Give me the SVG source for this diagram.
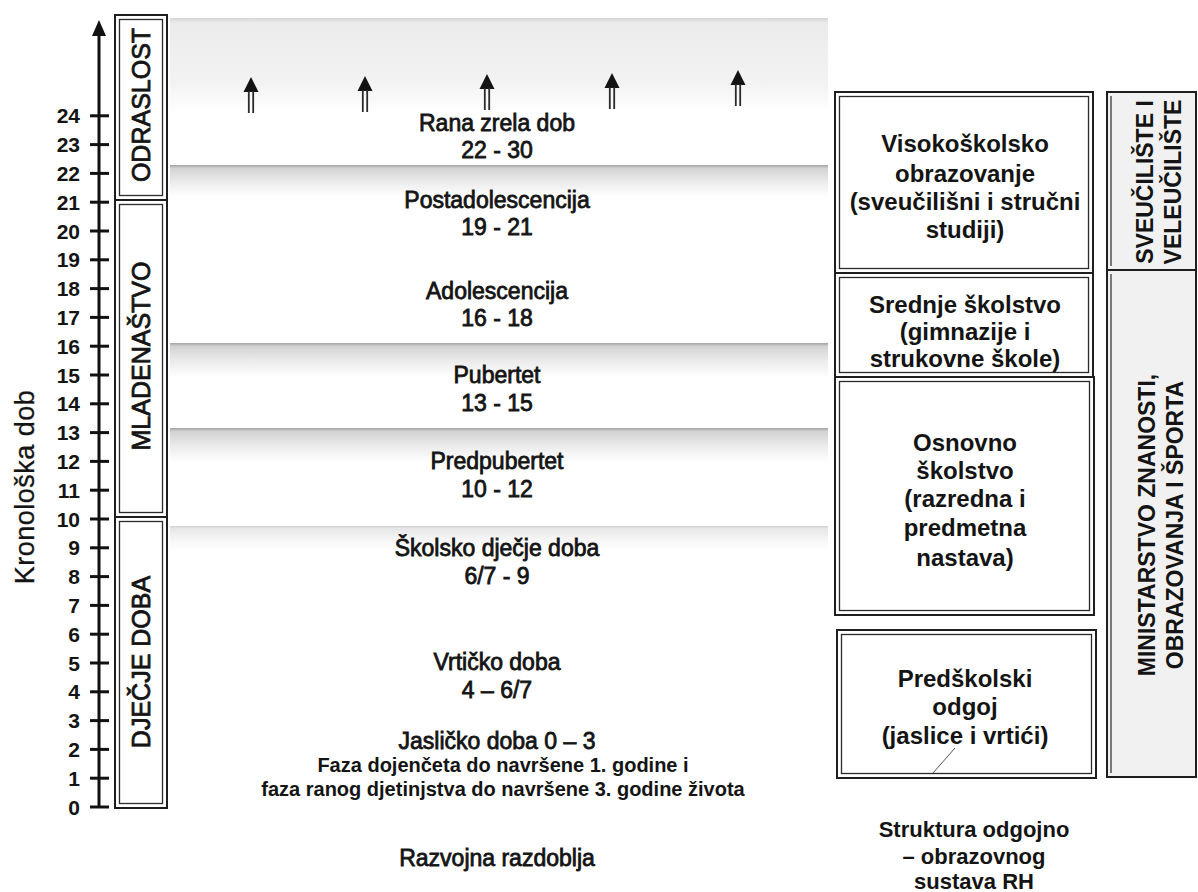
<svg xmlns="http://www.w3.org/2000/svg" xmlns:xlink="http://www.w3.org/1999/xlink" width="1198" height="892" viewBox="0 0 1198 892">
  <style>
    text { font-family: "Liberation Sans", Arial, sans-serif; fill: #141414; }
    .mid { font-size: 23px; text-anchor: middle; stroke: #141414; stroke-width: 0.8; }
    .note { font-size: 20px; font-weight: bold; text-anchor: middle; }
    .num { font-size: 21px; font-weight: bold; text-anchor: end; }
    .vlab { font-size: 25px; text-anchor: middle; stroke: #141414; stroke-width: 0.8; }
    .axlab { font-size: 27px; text-anchor: middle; letter-spacing: 0.5px; stroke: #141414; stroke-width: 0.3; }
    .box { font-size: 24px; font-weight: bold; text-anchor: middle; }
    .rcol { font-size: 23px; font-weight: bold; text-anchor: middle; }
    .cap { font-size: 22px; font-weight: bold; text-anchor: middle; }
    .outer { fill: none; stroke: #1e1e1e; stroke-width: 2; }
    .inner { fill: none; stroke: #2a2a2a; stroke-width: 1.3; }
    .tick { stroke: #111; stroke-width: 3; }
    .shaft { stroke: #2a2a2a; stroke-width: 1.8; }
  </style>
  <defs>
    <linearGradient id="band" x1="0" y1="0" x2="0" y2="1">
      <stop offset="0" stop-color="#a4a4a4"/>
      <stop offset="0.1" stop-color="#d2d2d2"/>
      <stop offset="0.5" stop-color="#eaeaea"/>
      <stop offset="1" stop-color="#ffffff"/>
    </linearGradient>
    <linearGradient id="bandTop" x1="0" y1="0" x2="0" y2="1">
      <stop offset="0" stop-color="#d6d6d6"/>
      <stop offset="0.05" stop-color="#ebebeb"/>
      <stop offset="0.7" stop-color="#f3f3f3"/>
      <stop offset="1" stop-color="#ffffff"/>
    </linearGradient>
    <g id="uparrow">
      <polygon points="0,0 -7.5,15 7.5,15" fill="#141414"/>
      <line class="shaft" x1="-2.2" y1="14" x2="-2.2" y2="36"/>
      <line class="shaft" x1="2.2" y1="14" x2="2.2" y2="36"/>
    </g>
  </defs>

  <rect width="1198" height="892" fill="#ffffff"/>

  <!-- shaded bands of the development periods -->
  <g id="bands">
    <rect x="170" y="18" width="658" height="95" fill="url(#bandTop)"/>
    <rect x="170" y="165" width="658" height="32" fill="url(#band)"/>
    <rect x="170" y="343" width="658" height="34" fill="url(#band)"/>
    <rect x="170" y="428" width="658" height="34" fill="url(#band)"/>
    <rect x="170" y="526" width="658" height="24" fill="url(#band)" opacity="0.55"/>
  </g>

  <!-- chronological axis -->
  <g id="axis">
    <line x1="99" y1="808" x2="99" y2="32" stroke="#111" stroke-width="3"/>
    <polygon points="99,20 92,36 106,36" fill="#111"/>
    <g id="ticks">
      <line class="tick" x1="90" y1="807" x2="109" y2="807"/>
      <line class="tick" x1="90" y1="778.2" x2="109" y2="778.2"/>
      <line class="tick" x1="90" y1="749.4" x2="109" y2="749.4"/>
      <line class="tick" x1="90" y1="720.6" x2="109" y2="720.6"/>
      <line class="tick" x1="90" y1="691.8" x2="109" y2="691.8"/>
      <line class="tick" x1="90" y1="663" x2="109" y2="663"/>
      <line class="tick" x1="90" y1="634.2" x2="109" y2="634.2"/>
      <line class="tick" x1="90" y1="605.4" x2="109" y2="605.4"/>
      <line class="tick" x1="90" y1="576.6" x2="109" y2="576.6"/>
      <line class="tick" x1="90" y1="547.8" x2="109" y2="547.8"/>
      <line class="tick" x1="90" y1="519" x2="109" y2="519"/>
      <line class="tick" x1="90" y1="490.2" x2="109" y2="490.2"/>
      <line class="tick" x1="90" y1="461.4" x2="109" y2="461.4"/>
      <line class="tick" x1="90" y1="432.6" x2="109" y2="432.6"/>
      <line class="tick" x1="90" y1="403.8" x2="109" y2="403.8"/>
      <line class="tick" x1="90" y1="375" x2="109" y2="375"/>
      <line class="tick" x1="90" y1="346.2" x2="109" y2="346.2"/>
      <line class="tick" x1="90" y1="317.4" x2="109" y2="317.4"/>
      <line class="tick" x1="90" y1="288.6" x2="109" y2="288.6"/>
      <line class="tick" x1="90" y1="259.8" x2="109" y2="259.8"/>
      <line class="tick" x1="90" y1="231" x2="109" y2="231"/>
      <line class="tick" x1="90" y1="202.2" x2="109" y2="202.2"/>
      <line class="tick" x1="90" y1="173.4" x2="109" y2="173.4"/>
      <line class="tick" x1="90" y1="144.6" x2="109" y2="144.6"/>
      <line class="tick" x1="90" y1="115.8" x2="109" y2="115.8"/>
    </g>
    <g id="tick-labels">
      <text class="num" x="80" y="814.5">0</text>
      <text class="num" x="80" y="785.7">1</text>
      <text class="num" x="80" y="756.9">2</text>
      <text class="num" x="80" y="728.1">3</text>
      <text class="num" x="80" y="699.3">4</text>
      <text class="num" x="80" y="670.5">5</text>
      <text class="num" x="80" y="641.7">6</text>
      <text class="num" x="80" y="612.9">7</text>
      <text class="num" x="80" y="584.1">8</text>
      <text class="num" x="80" y="555.3">9</text>
      <text class="num" x="80" y="526.5">10</text>
      <text class="num" x="80" y="497.7">11</text>
      <text class="num" x="80" y="468.9">12</text>
      <text class="num" x="80" y="440.1">13</text>
      <text class="num" x="80" y="411.3">14</text>
      <text class="num" x="80" y="382.5">15</text>
      <text class="num" x="80" y="353.7">16</text>
      <text class="num" x="80" y="324.9">17</text>
      <text class="num" x="80" y="296.1">18</text>
      <text class="num" x="80" y="267.3">19</text>
      <text class="num" x="80" y="238.5">20</text>
      <text class="num" x="80" y="209.7">21</text>
      <text class="num" x="80" y="180.9">22</text>
      <text class="num" x="80" y="152.1">23</text>
      <text class="num" x="80" y="123.3">24</text>
    </g>
    <text class="axlab" transform="translate(34,487) rotate(-90)">Kronološka dob</text>
  </g>

  <!-- life stage boxes -->
  <g id="stage-odraslost">
    <rect class="outer" x="115" y="15" width="52" height="185"/>
    <rect class="inner" x="119.5" y="19.5" width="43" height="176"/>
    <text class="vlab" transform="translate(150,105) rotate(-90)">ODRASLOST</text>
  </g>
  <g id="stage-mladenastvo">
    <rect class="outer" x="115" y="200" width="52" height="317"/>
    <rect class="inner" x="119.5" y="204.5" width="43" height="308"/>
    <text class="vlab" transform="translate(150,356) rotate(-90)">MLADENAŠTVO</text>
  </g>
  <g id="stage-djecje-doba">
    <rect class="outer" x="115" y="517" width="52" height="291"/>
    <rect class="inner" x="119.5" y="521.5" width="43" height="282"/>
    <text class="vlab" transform="translate(150,662) rotate(-90)">DJEČJE DOBA</text>
  </g>

  <!-- development periods -->
  <g id="period-rana-zrela">
    <text class="mid" x="497" y="131">Rana zrela dob</text>
    <text class="mid" x="497" y="158">22 - 30</text>
  </g>
  <g id="period-postadolescencija">
    <text class="mid" x="497" y="208">Postadolescencija</text>
    <text class="mid" x="497" y="235">19 - 21</text>
  </g>
  <g id="period-adolescencija">
    <text class="mid" x="497" y="299">Adolescencija</text>
    <text class="mid" x="497" y="326">16 - 18</text>
  </g>
  <g id="period-pubertet">
    <text class="mid" x="497" y="383">Pubertet</text>
    <text class="mid" x="497" y="411">13 - 15</text>
  </g>
  <g id="period-predpubertet">
    <text class="mid" x="497" y="469">Predpubertet</text>
    <text class="mid" x="497" y="497">10 - 12</text>
  </g>
  <g id="period-skolsko">
    <text class="mid" x="497" y="556">Školsko dječje doba</text>
    <text class="mid" x="497" y="584">6/7 - 9</text>
  </g>
  <g id="period-vrticko">
    <text class="mid" x="497" y="670">Vrtičko doba</text>
    <text class="mid" x="497" y="698">4 – 6/7</text>
  </g>
  <g id="period-jaslicko">
    <text class="mid" x="497" y="749">Jasličko doba 0 – 3</text>
    <text class="note" x="503" y="772">Faza dojenčeta do navršene 1. godine i</text>
    <text class="note" x="503" y="796">faza ranog djetinjstva do navršene 3. godine života</text>
  </g>
  <g id="caption-left">
    <text class="mid" x="497" y="866">Razvojna razdoblja</text>
  </g>

  <!-- arrows (connectors) -->
  <g id="connectors">
    <use href="#uparrow" xlink:href="#uparrow" transform="translate(251,77)"/>
    <use href="#uparrow" xlink:href="#uparrow" transform="translate(365,76)"/>
    <use href="#uparrow" xlink:href="#uparrow" transform="translate(487,74)"/>
    <use href="#uparrow" xlink:href="#uparrow" transform="translate(612,73)"/>
    <use href="#uparrow" xlink:href="#uparrow" transform="translate(738,70)"/>
  </g>

  <!-- education system boxes -->
  <g id="edu-visoko">
    <rect class="outer" x="835" y="92" width="258" height="181" fill="#fff"/>
    <rect class="inner" x="839.5" y="96.5" width="249" height="172"/>
    <text class="box" x="965" y="152">Visokoškolsko</text>
    <text class="box" x="965" y="182">obrazovanje</text>
    <text class="box" x="965" y="210">(sveučilišni i stručni</text>
    <text class="box" x="965" y="238">studiji)</text>
  </g>
  <g id="edu-srednje">
    <rect class="outer" x="835" y="273" width="258" height="104"/>
    <rect class="inner" x="839.5" y="277.5" width="249" height="95"/>
    <text class="box" x="965" y="313">Srednje školstvo</text>
    <text class="box" x="965" y="340">(gimnazije i</text>
    <text class="box" x="965" y="367">strukovne škole)</text>
  </g>
  <g id="edu-osnovno">
    <rect class="outer" x="835" y="377" width="259" height="238"/>
    <rect class="inner" x="839.5" y="381.5" width="250" height="229"/>
    <text class="box" x="965" y="451">Osnovno</text>
    <text class="box" x="965" y="479">školstvo</text>
    <text class="box" x="965" y="507">(razredna i</text>
    <text class="box" x="965" y="536">predmetna</text>
    <text class="box" x="965" y="566">nastava)</text>
  </g>
  <g id="edu-predskolski">
    <rect class="outer" x="837" y="630" width="259" height="148"/>
    <rect class="inner" x="841.5" y="634.5" width="250" height="139"/>
    <text class="box" x="965" y="687">Predškolski</text>
    <text class="box" x="965" y="715">odgoj</text>
    <text class="box" x="965" y="744">(jaslice i vrtići)</text>
    <line x1="955" y1="748" x2="933" y2="773" stroke="#555" stroke-width="1"/>
  </g>
  <g id="caption-right">
    <text class="cap" x="974" y="837">Struktura odgojno</text>
    <text class="cap" x="974" y="864">– obrazovnog</text>
    <text class="cap" x="974" y="889">sustava RH</text>
  </g>

  <!-- institutions column -->
  <g id="inst-sveuciliste">
    <rect x="1107" y="92" width="89" height="178" fill="#f1f1f1" stroke="#1e1e1e" stroke-width="2"/>
    <line x1="1111" y1="96" x2="1111" y2="266" stroke="#2a2a2a" stroke-width="1.2"/>
    <text class="rcol" transform="translate(1153,182) rotate(-90)">SVEUČILIŠTE I</text>
    <text class="rcol" transform="translate(1181,182) rotate(-90)">VELEUČILIŠTE</text>
  </g>
  <g id="inst-ministarstvo">
    <rect x="1107" y="270" width="89" height="507" fill="#f1f1f1" stroke="#1e1e1e" stroke-width="2"/>
    <line x1="1111" y1="274" x2="1111" y2="773" stroke="#2a2a2a" stroke-width="1.2"/>
    <text class="rcol" transform="translate(1155,525) rotate(-90)">MINISTARSTVO ZNANOSTI,</text>
    <text class="rcol" transform="translate(1183,525) rotate(-90)">OBRAZOVANJA I ŠPORTA</text>
  </g>
</svg>
